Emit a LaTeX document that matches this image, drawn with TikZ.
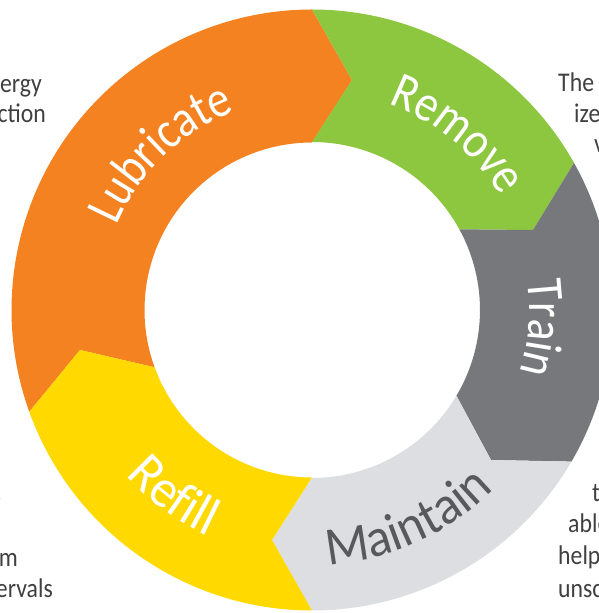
\documentclass[tikz,border=0pt]{standalone}
\usepackage{fontspec}
\usetikzlibrary{decorations.text}
\newfontfamily\ringfont[FakeStretch=0.86]{Carlito}
\newfontfamily\wideringfont[FakeStretch=0.94]{Carlito}
\newfontfamily\bodyfont[FakeStretch=0.88]{Carlito}
\definecolor{cOrange}{HTML}{F58220}
\definecolor{cGreen}{HTML}{8DC63F}
\definecolor{cGray}{HTML}{77787B}
\definecolor{cLight}{HTML}{DCDEE2}
\definecolor{cYellow}{HTML}{FFD900}
\definecolor{cDark}{HTML}{58595B}
\definecolor{cBody}{HTML}{404041}
\newcommand{\headfont}{\ringfont\fontsize{52}{52}\selectfont}
\newcommand{\wideheadfont}{\wideringfont\fontsize{54}{54}\selectfont}
\tikzset{
  x=1pt,y=1pt,
  seg/.style={draw=none},
  bodyl/.style={anchor=base west,inner sep=0pt,text=cBody,font=\bodyfont\fontsize{27}{27}\selectfont},
  bodyr/.style={anchor=base east,inner sep=0pt,text=cBody,font=\bodyfont\fontsize{27}{27}\selectfont},
  curved/.style n args={2}{decorate,decoration={text along path,text align=center,text={|\headfont\color{#2}|#1}}},
  curvedwide/.style n args={2}{decorate,decoration={text along path,text align=center,text={|\wideheadfont\color{#2}|#1}}}
}
\begin{document}
\begin{tikzpicture}
\useasboundingbox (0,0) rectangle (599,613);
\clip (0,0) rectangle (599,613);
\fill[white] (0,0) rectangle (599,613);
% clipped body text
\node[bodyr] (t1) at (42,520) {ergy};
\node[bodyr] (t2) at (46,490) {ction};
\node[bodyr] (t3) at (2,112) {.};
\node[bodyr] (t4) at (18,46) {m};
\node[bodyr] (t5) at (53,15) {ervals};
\node[bodyl] (t6) at (558,521) {The};
\node[bodyl] (t7) at (574,490) {ize};
\node[bodyl] (t8) at (594,460) {v};
\node[bodyl] (t9) at (592,111) {t};
\node[bodyl] (t10) at (568,80) {able};
\node[bodyl] (t11) at (558,48) {help};
\node[bodyl] (t12) at (558,16) {unsc};
\begin{scope}[shift={(312,303)}]
\fill[seg,cOrange] (199.8:300.5) arc[start angle=199.8,end angle=90,radius=300.5]
  -- (40,230) -- (0,167.5) arc[start angle=90,end angle=200,radius=167.5] -- (-232,-40) -- cycle;
\fill[seg,cGreen] (90:300.5) arc[start angle=90,end angle=29.3,radius=300.5]
  -- (221,80) -- (28.7:168) arc[start angle=28.7,end angle=90,radius=168] -- (40,230) -- cycle;
\fill[seg,cGray] (29.3:300.5) arc[start angle=29.3,end angle=-30.3,radius=300.5]
  -- (179,-150) -- (-30.7:168) arc[start angle=-30.7,end angle=28.7,radius=168] -- (221,80) -- cycle;
\fill[seg,cLight] (-30.3:300.5) arc[start angle=-30.3,end angle=-90,radius=300.5]
  -- (-40,-230) -- (-90:168) arc[start angle=-90,end angle=-30.7,radius=168] -- (179,-150) -- cycle;
\fill[seg,cYellow] (-90:300.5) arc[start angle=-90,end angle=-160.2,radius=300.5]
  -- (-232,-40) -- (200:167.5) arc[start angle=200,end angle=270,radius=167.5] -- (-40,-230) -- cycle;
% curved labels
\path[curved={Lubricate}{white}] (194:213) arc[start angle=194,end angle=74,radius=213];
\path[curved={Remove}{white}] (110.4:220) arc[start angle=110.4,end angle=-9.6,radius=220];
\path[curved={Train}{white}] (55.5:217) arc[start angle=55.5,end angle=-64.5,radius=217];
\path[curvedwide={Maintain}{cDark}] (-125.4:255) arc[start angle=-125.4,end angle=-5.4,radius=255];
\path[curvedwide={Refill}{white}] (-186.5:249) arc[start angle=-186.5,end angle=-66.5,radius=249];
\end{scope}
\end{tikzpicture}
\end{document}
